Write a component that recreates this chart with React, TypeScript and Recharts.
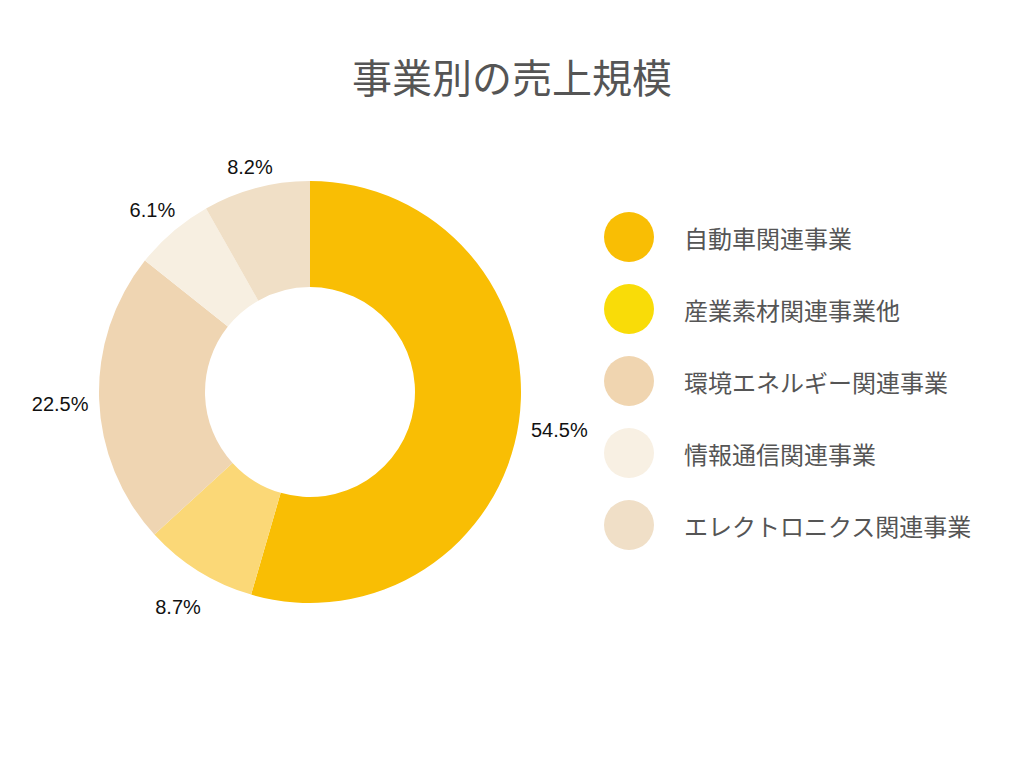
import { PieChart, Pie, Cell, Legend } from "recharts";

const categories = [
  "自動車関連事業",
  "産業素材関連事業他",
  "環境エネルギー関連事業",
  "情報通信関連事業",
  "エレクトロニクス関連事業",
];
const shares = [54.5, 8.7, 22.5, 6.1, 8.2];
const sliceColors = ["#F9BE04", "#FBD877", "#EFD5B2", "#F7EFE1", "#F0DFC6"];
const legendColors = ["#F9BE04", "#F9DC08", "#F0D5B0", "#F8F0E3", "#F0DFC7"];

const data = categories.map((name, i) => ({ name, value: shares[i] }));

const RAD = Math.PI / 180;
const LABEL_FONT = 20;

// rough Arial widths so the label box sits just outside the ring
function textWidth(s: string) {
  let w = 0;
  for (const ch of s) {
    if (ch === ".") w += 0.278;
    else if (ch === "%") w += 0.889;
    else w += 0.556;
  }
  return w * LABEL_FONT;
}

function renderLabel(props: any) {
  const { cx, cy, midAngle, outerRadius, value } = props;
  const text = `${value.toFixed(1)}%`;
  const dx = Math.cos(-midAngle * RAD);
  const dy = Math.sin(-midAngle * RAD);
  const w = textWidth(text);
  const h = 18;
  const r = outerRadius + 10 + Math.abs(dx) * (w / 2) + Math.abs(dy) * (h / 2) + (dy > 0 ? 11 * dy : 0);
  return (
    <text
      x={cx + r * dx}
      y={cy + r * dy + 3}
      textAnchor="middle"
      dominantBaseline="central"
      fill="#111"
      fontSize={LABEL_FONT}
      fontFamily="'Liberation Sans', Arial, sans-serif"
    >
      {text}
    </text>
  );
}

function LegendBox() {
  return (
    <div>
      {categories.map((name, i) => (
        <div key={name} style={{ display: "flex", alignItems: "center", height: 72 }}>
          <div
            style={{
              width: 50,
              height: 50,
              borderRadius: "50%",
              background: legendColors[i],
              marginRight: 30,
            }}
          />
          <span style={{ fontSize: 24, color: "#555", fontFamily: "'Noto Sans CJK JP', sans-serif" }}>{name}</span>
        </div>
      ))}
    </div>
  );
}

export default function App() {
  return (
    <div style={{ position: "absolute", left: 0, top: 0, width: 1024, height: 768, background: "#fff" }}>
      <div
        style={{
          position: "absolute",
          left: 0,
          top: 48,
          width: 1024,
          textAlign: "center",
          fontSize: 40,
          lineHeight: "56px",
          color: "#555",
          fontFamily: "'Noto Sans CJK JP', sans-serif",
        }}
      >
        事業別の売上規模
      </div>
      <PieChart width={1024} height={768} margin={{ top: 0, right: 0, bottom: 0, left: 0 }}>
        <Pie
          data={data}
          dataKey="value"
          nameKey="name"
          cx={310}
          cy={392}
          innerRadius={105}
          outerRadius={211}
          startAngle={90}
          endAngle={-270}
          stroke="none"
          label={renderLabel}
          labelLine={false}
          isAnimationActive={false}
        >
          {data.map((_, i) => (
            <Cell key={`cell-${i}`} fill={sliceColors[i]} />
          ))}
        </Pie>
        <Legend
          content={() => <LegendBox />}
          wrapperStyle={{ position: "absolute", left: 604, top: 201, width: 400, bottom: "auto" }}
        />
      </PieChart>
    </div>
  );
}
